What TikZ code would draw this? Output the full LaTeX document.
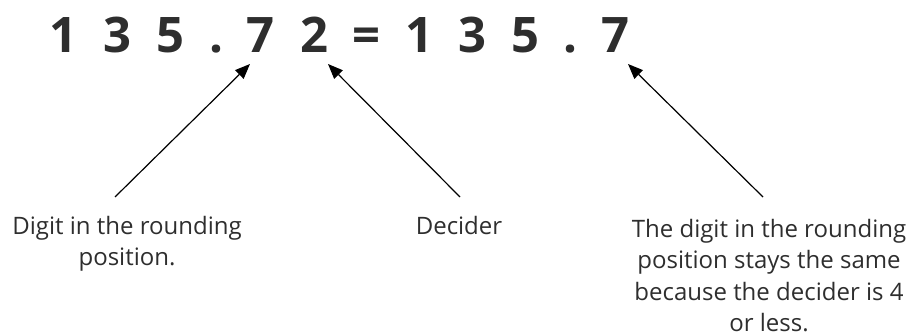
\documentclass[tikz,border=0pt]{standalone}
\usepackage{fontspec}
\setmainfont{Open Sans}
\usetikzlibrary{arrows.meta}
\definecolor{ink}{HTML}{2E2E2E}
\begin{document}
\begin{tikzpicture}[x=1pt,y=-1pt,
  digit/.style={anchor=base,inner sep=0pt,text=ink,font=\fontsize{49}{49}\selectfont\bfseries},
  label/.style={anchor=north,inner sep=0pt,text=ink,align=center,font=\fontsize{24}{31.5}\selectfont},
  pointer/.style={draw=black,line width=1.2pt,-{Triangle[length=15pt,width=12pt]}}]
\useasboundingbox (0,0) rectangle (916,336);
\node[digit] (d1) at (63,53) {1};
\node[digit] (d2) at (117,53) {3};
\node[digit] (d3) at (170,53) {5};
\node[digit] (d4) at (216,53) {.};
\node[digit] (d5) at (260,53) {7};
\node[digit] (d6) at (314,53) {2};
\node[digit] (d7) at (366,53) {=};
\node[digit] (d8) at (419,53) {1};
\node[digit] (d9) at (472,53) {3};
\node[digit] (d10) at (525,53) {5};
\node[digit] (d11) at (570,53) {.};
\node[digit] (d12) at (615,53) {7};
\node[label] (l1) at (127,216) {Digit in the rounding\\position.};
\node[label] (l2) at (459,216) {Decider};
\node[label] (l3) at (769,219) {The digit in the rounding\\position stays the same\\because the decider is 4\\or less.};
\coordinate (t1) at (115,197);
\coordinate (t2) at (460,197);
\coordinate (t3) at (763,197);
\coordinate (h1) at (250,64);
\coordinate (h2) at (328,64);
\coordinate (h3) at (628,64);
\draw[pointer] (t1) -- (h1);
\draw[pointer] (t2) -- (h2);
\draw[pointer] (t3) -- (h3);
\end{tikzpicture}
\end{document}
